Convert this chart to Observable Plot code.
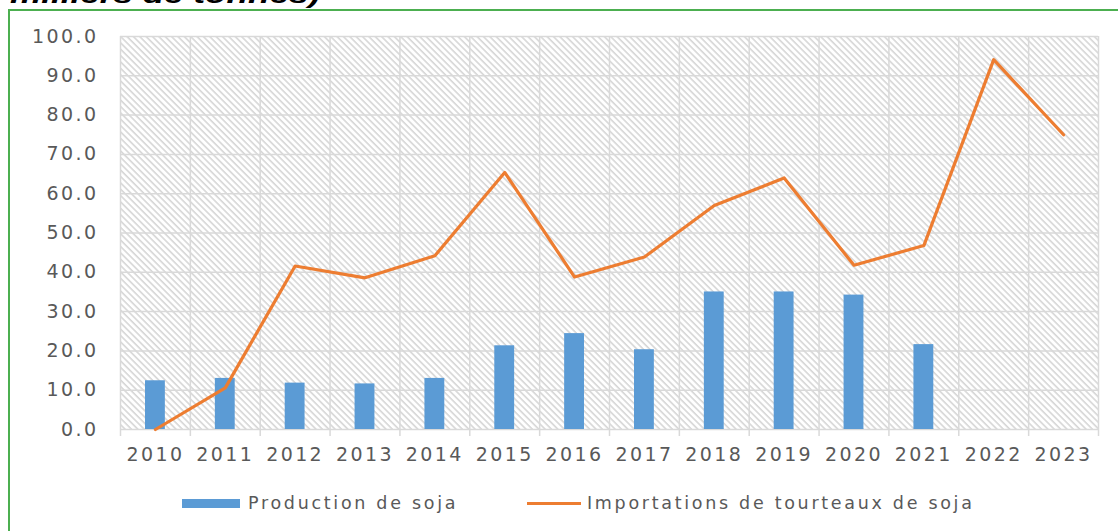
<!DOCTYPE html>
<html>
<head>
<meta charset="utf-8">
<script src="https://cdn.jsdelivr.net/npm/d3@7"></script>
<script src="https://cdn.jsdelivr.net/npm/@observablehq/plot@0.6"></script>
<style>
  html, body { margin: 0; padding: 0; background: #fff; overflow: hidden; }
  #wrap { position: relative; width: 1118px; height: 531px; overflow: hidden; font-family: "DejaVu Sans", sans-serif; }
  #title { position: absolute; left: 10px; top: -19px; font: italic bold 26px "Liberation Sans", Arial, sans-serif; color: #000; white-space: nowrap; transform: scaleX(1.35); transform-origin: left top; line-height: 26px; }
  #border { position: absolute; left: 8px; top: 9px; width: 2000px; height: 2000px; border-left: 2px solid #4caf50; border-top: 2px solid #4caf50; pointer-events: none; }
  #chart { position: absolute; left: 0; top: 0; }
  #chart svg text { letter-spacing: 2.4px; }
  .leg { position: absolute; font-size: 17.5px; color: #595959; letter-spacing: 2.7px; white-space: nowrap; line-height: 20px; }
  .sw { position: absolute; }
</style>
</head>
<body>
<div id="wrap">
  <div id="title">milliers de tonnes)</div>
  <div id="chart"></div>
  <div id="border"></div>
  <div class="sw" style="left:182px; top:499px; width:58px; height:9px; background:#5b9bd5;"></div>
  <div class="leg" style="left:248px; top:493px;">Production de soja</div>
  <div class="sw" style="left:527px; top:502px; width:54px; height:3px; background:#ed7d31;"></div>
  <div class="leg" style="left:587px; top:493px;">Importations de tourteaux de soja</div>
</div>
<script>
const years = [2010, 2011, 2012, 2013, 2014, 2015, 2016, 2017, 2018, 2019, 2020, 2021, 2022, 2023];
const productionYears = [2010, 2011, 2012, 2013, 2014, 2015, 2016, 2017, 2018, 2019, 2020, 2021];
const production = [12.4, 13.0, 11.8, 11.6, 13.0, 21.3, 24.4, 20.3, 35.0, 35.0, 34.2, 21.6];
const imports = [0.0, 10.6, 41.6, 38.6, 44.2, 65.4, 38.8, 43.9, 57.0, 64.0, 41.8, 46.8, 94.1, 75.0];
const yTicks = [0, 10, 20, 30, 40, 50, 60, 70, 80, 90, 100];

const prodData = productionYears.map((y, i) => ({year: y, value: production[i]}));
const impData = years.map((y, i) => ({year: y, value: imports[i]}));
const bounds = [years[0] - 0.5, ...years.map(y => y + 0.5)];

const grid = "#d9d9d9";
const textColor = "#595959";

const svg = Plot.plot({
  width: 1118,
  height: 470,
  marginLeft: 120,
  marginRight: 20,
  marginTop: 36,
  marginBottom: 41,
  style: {fontFamily: "DejaVu Sans, sans-serif", fontSize: "19px", color: textColor, background: "transparent", overflow: "visible"},
  x: {type: "linear", domain: [years[0] - 0.5, years[years.length - 1] + 0.5]},
  y: {domain: [0, 100]},
  marks: [
    Plot.frame({fill: "url(#hatch)", stroke: "none"}),
    Plot.ruleY(yTicks, {stroke: grid, strokeWidth: 1.5}),
    Plot.ruleX(bounds, {stroke: grid, strokeWidth: 1.5, insetBottom: -7}),
    Plot.rectY(prodData, {x1: d => d.year - 0.5, x2: d => d.year + 0.5, y1: 0, y2: "value", fill: "#5b9bd5", insetLeft: 25, insetRight: 25}),
    Plot.line(impData, {x: "year", y: "value", stroke: "#ed7d31", strokeWidth: 3.2, strokeLinejoin: "round", strokeLinecap: "round"}),
    Plot.axisY(yTicks, {tickSize: 0, tickPadding: 22, tickFormat: d3.format(".1f"), fill: textColor, fontSize: 19, label: null}),
    Plot.axisX(years, {tickSize: 0, tickPadding: 18, tickFormat: d => String(d), fill: textColor, fontSize: 19, label: null})
  ]
});

const ns = "http://www.w3.org/2000/svg";
const defs = document.createElementNS(ns, "defs");
defs.innerHTML = `<pattern id="hatch" patternUnits="userSpaceOnUse" width="4.5" height="4.5" patternTransform="rotate(-45)">
  <rect width="4.5" height="4.5" fill="#ffffff"></rect>
  <line x1="1" y1="0" x2="1" y2="4.5" stroke="#d6d6d6" stroke-width="1.6"></line>
</pattern>`;
svg.insertBefore(defs, svg.firstChild);
document.getElementById("chart").appendChild(svg);
</script>
</body>
</html>
